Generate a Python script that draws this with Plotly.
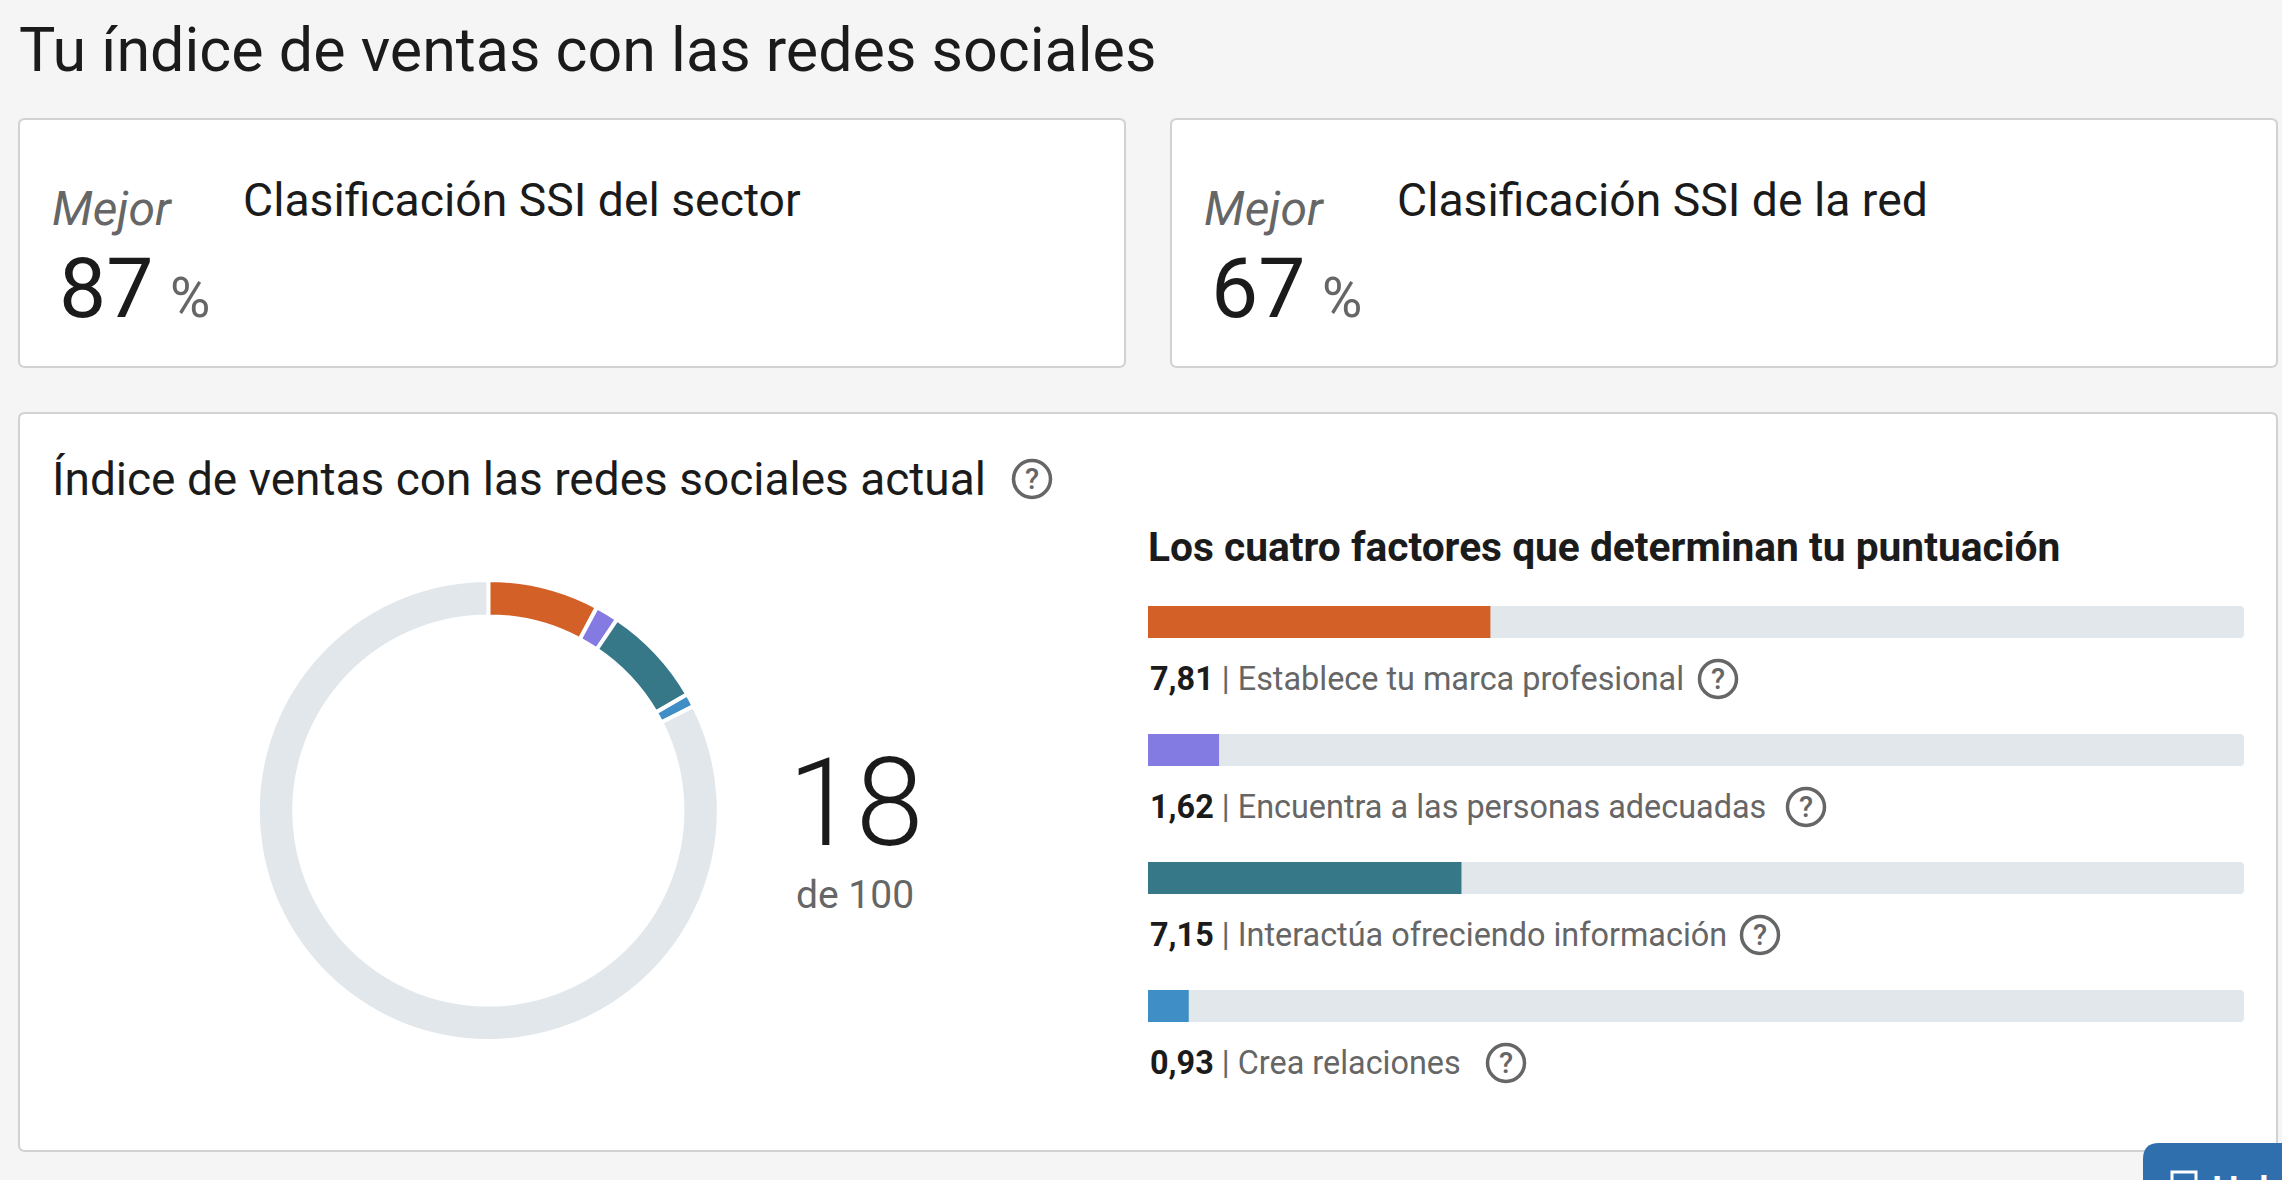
import plotly.graph_objects as go

W, H = 2282, 1180
FONT = "Roboto"
INK = "#1b1b1b"
MUTED = "#666666"
TRACK = "#e1e7eb"

factor_names = ["Establece tu marca profesional", "Encuentra a las personas adecuadas",
                "Interactúa ofreciendo información", "Crea relaciones"]
factor_labels = ["7,81", "1,62", "7,15", "0,93"]
factor_values = [7.81, 1.62, 7.15, 0.93]
factor_max = [25, 25, 25, 25]
factor_colors = ["#d36127", "#837ae2", "#367788", "#3f8fc6"]
remainder = [82.49]
total_label = "18"

def px(x): return x / W
def py(y): return 1 - y / H

def rrect(x0, y0, x1, y1, r):
    return (f"M{px(x0+r)},{py(y0)} L{px(x1-r)},{py(y0)} Q{px(x1)},{py(y0)} {px(x1)},{py(y0+r)} "
            f"L{px(x1)},{py(y1-r)} Q{px(x1)},{py(y1)} {px(x1-r)},{py(y1)} "
            f"L{px(x0+r)},{py(y1)} Q{px(x0)},{py(y1)} {px(x0)},{py(y1-r)} "
            f"L{px(x0)},{py(y0+r)} Q{px(x0)},{py(y0)} {px(x0+r)},{py(y0)} Z")

shapes, ann = [], []

def card(x0, y0, x1, y1):
    shapes.append(dict(type="path", path=rrect(x0, y0, x1, y1, 6), xref="paper", yref="paper",
                       fillcolor="white", line=dict(color="#d2d2d2", width=2), layer="below"))

def text(x, y, s, size, color=INK, anchor="left", weight=None, style=None, yanchor="middle"):
    f = dict(family=FONT, size=size, color=color)
    if weight: f["weight"] = weight
    if style: f["style"] = style
    ann.append(dict(x=px(x), y=py(y), xref="paper", yref="paper", text=s, showarrow=False, font=f,
                    xanchor=anchor, yanchor=yanchor, borderpad=0, borderwidth=0))

def help_icon(cx, cy):
    r = 18.5
    shapes.append(dict(type="circle", xref="paper", yref="paper", x0=px(cx-r), x1=px(cx+r),
                       y0=py(cy+r), y1=py(cy-r), line=dict(color=MUTED, width=3.5),
                       fillcolor="rgba(0,0,0,0)", layer="above"))
    text(cx, cy, "?", 29, MUTED, "center", weight=500)

card(19, 119, 1125, 367)
card(1171, 119, 2277, 367)
card(19, 413, 2277, 1151)

text(19, 50, "Tu índice de ventas con las redes sociales", 61)

for x0, tx, pct, name in [(52, 243, "87", "Clasificación SSI del sector"), (1204, 1397, "67", "Clasificación SSI de la red")]:
    text(x0, 208, "Mejor", 48, MUTED, style="italic")
    text(x0 + 7, 289, pct, 84, weight=400)
    text(x0 + 118, 298, "%", 55, MUTED)
    text(tx, 200, name, 46.3)

text(52, 479, "Índice de ventas con las redes sociales actual", 46)
help_icon(1032, 479)
text(1148, 547, "Los cuatro factores que determinan tu puntuación", 40.7, weight=700)
text(855, 803, total_label, 122, weight=300, anchor="center")
text(855, 895, "de 100", 39, MUTED, anchor="center")

for cx, cy in [(1718, 679), (1806, 807), (1760, 935), (1506, 1063)]:
    help_icon(cx, cy)

# cut-off floating button
shapes.append(dict(type="path", path=rrect(2143, 1143, 2300, 1220, 16), xref="paper", yref="paper",
                   fillcolor="#2f6fad", line=dict(width=0), layer="above"))
shapes.append(dict(type="rect", xref="paper", yref="paper", x0=px(2172), x1=px(2196), y0=py(1190), y1=py(1172),
                   line=dict(color="white", width=3), fillcolor="rgba(0,0,0,0)", layer="above"))
text(2212, 1191, "Hable", 38, "white", weight=600)

fig = go.Figure()

cx, cy, R = 488.3, 810.5, 230.5
fig.add_trace(go.Pie(values=factor_values + remainder, marker=dict(colors=factor_colors + [TRACK], line=dict(color="white", width=4)),
                     sort=False, direction="clockwise", rotation=0, hole=0.842, textinfo="none", showlegend=False,
                     domain=dict(x=[px(cx-R), px(cx+R)], y=[py(cy+R), py(cy-R)]), hoverinfo="none"))

fig.add_trace(go.Bar(y=factor_names, x=factor_max, orientation="h", width=0.25, marker=dict(color=TRACK, line=dict(width=0)),
                     showlegend=False, hoverinfo="skip"))
fig.add_trace(go.Bar(y=factor_names, x=factor_values, orientation="h", width=0.25, marker=dict(color=factor_colors, line=dict(width=0)),
                     showlegend=False, hoverinfo="skip"))

for i, (lab, name) in enumerate(zip(factor_labels, factor_names)):
    ann.append(dict(x=0, y=i, xref="x", yref="y", yshift=-57, xanchor="left", yanchor="middle", showarrow=False,
                    text=f"<b>{lab}</b> <span style='color:{MUTED}'>| {name}</span>",
                    font=dict(family=FONT, size=32.4, color=INK)))

fig.update_layout(
    width=W, height=H, autosize=False, margin=dict(l=0, r=0, t=0, b=0),
    paper_bgcolor="#f5f5f5", plot_bgcolor="rgba(0,0,0,0)", barmode="overlay", barcornerradius=4,
    xaxis=dict(domain=[px(1148), px(2244)], range=[0, 25], visible=False, fixedrange=True),
    yaxis=dict(domain=[py(1070), py(558)], range=[3.5, -0.5], type="category", visible=False, fixedrange=True,
               categoryorder="array", categoryarray=factor_names),
    shapes=shapes, annotations=ann, font=dict(family=FONT),
)
fig.write_html("out.html", config=dict(displayModeBar=False),
               post_script="document.body.style.margin='0';document.documentElement.style.overflow='hidden';document.body.style.background='#f5f5f5';")
